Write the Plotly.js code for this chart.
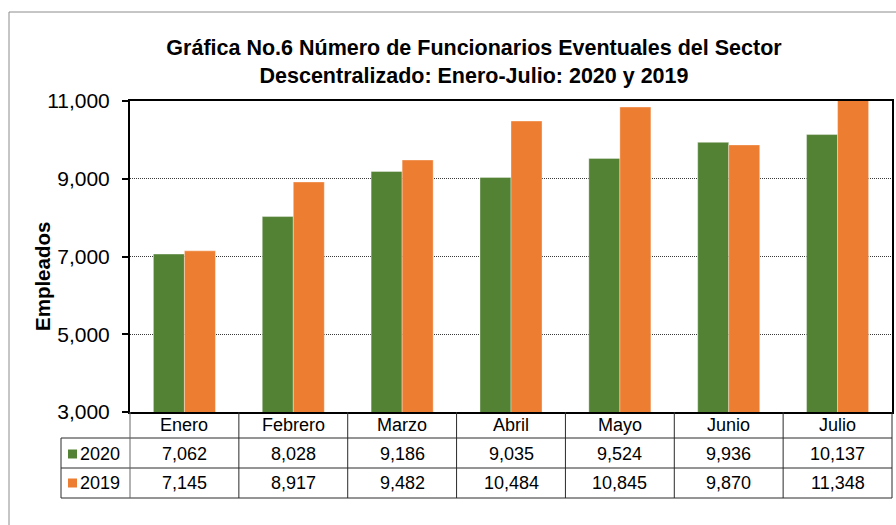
<!DOCTYPE html>
<html>
<head>
<meta charset="utf-8">
<script src="https://cdn.plot.ly/plotly-3.0.1.min.js"></script>
<style>html,body{margin:0;padding:0;background:#fff;}#chart{width:896px;height:525px;}</style>
</head>
<body>
<div id="chart"></div>
<script>
var categories = ["Enero", "Febrero", "Marzo", "Abril", "Mayo", "Junio", "Julio"];
var seriesNames = ["2020", "2019"];
var values2020 = [7062, 8028, 9186, 9035, 9524, 9936, 10137];
var values2019 = [7145, 8917, 9482, 10484, 10845, 9870, 11348];
var seriesColors = ["#548235", "#ED7D31"];
var yTicks = [3000, 5000, 7000, 9000, 11000];
var titleText = "Gráfica No.6 Número de Funcionarios Eventuales del Sector<br>Descentralizado: Enero-Julio: 2020 y 2019";
var yTitleText = "Empleados";

var FONT = "Arial, 'Liberation Sans', sans-serif";
var seriesValues = [values2020, values2019];

// plot area in pixels: x 130..892, y 101..412
var W = 896, H = 525, L = 130, R = 4, T = 101, B = 113;
var plotW = W - L - R, plotH = H - T - B;
function px2paperX(px) { return (px - L) / plotW; }
function px2paperY(py) { return (H - B - py) / plotH; }

var traces = seriesValues.map(function (vals, i) {
  return {
    type: "bar",
    name: seriesNames[i],
    x: categories,
    y: vals,
    marker: { color: seriesColors[i], line: { color: "rgba(255,255,255,0.6)", width: 0.6 } },
    hoverinfo: "x+y+name"
  };
});

// table geometry (pixel rows)
var rowTop = 412, rowH0 = 438, rowH1 = 468, rowH2 = 498;
var legLeft = 61;
var lineColor = "#2a2a2a";
var shapes = [];
// outer chart frame (extends beyond canvas on right/bottom)
shapes.push({ type: "line", xref: "paper", yref: "paper", x0: px2paperX(9), x1: px2paperX(905), y0: px2paperY(12), y1: px2paperY(12), line: { color: "#8c8c8c", width: 1 } });
shapes.push({ type: "line", xref: "paper", yref: "paper", x0: px2paperX(9), x1: px2paperX(9), y0: px2paperY(12), y1: px2paperY(540), line: { color: "#8c8c8c", width: 1 } });
// horizontal table lines
[rowH0, rowH1, rowH2].forEach(function (py) {
  shapes.push({ type: "line", xref: "paper", yref: "paper", x0: px2paperX(legLeft), x1: 1, y0: px2paperY(py), y1: px2paperY(py), line: { color: lineColor, width: 1 } });
});
// legend column left border
shapes.push({ type: "line", xref: "paper", yref: "paper", x0: px2paperX(legLeft), x1: px2paperX(legLeft), y0: px2paperY(rowH0), y1: px2paperY(rowH2), line: { color: lineColor, width: 1 } });
// left border of category cells (below axis)
shapes.push({ type: "line", xref: "paper", yref: "paper", x0: 0, x1: 0, y0: 0, y1: px2paperY(rowH2), line: { color: "#666666", width: 1 } });
// right border
shapes.push({ type: "line", xref: "paper", yref: "paper", x0: 1, x1: 1, y0: 0, y1: px2paperY(rowH2), line: { color: lineColor, width: 1 } });
// category dividers
for (var i = 0; i < categories.length - 1; i++) {
  shapes.push({ type: "line", xref: "x", yref: "paper", x0: i + 0.5, x1: i + 0.5, y0: 0, y1: px2paperY(rowH2), line: { color: lineColor, width: 1 } });
}

var annotations = [];
var tFont = { family: FONT, size: 18, color: "#000" };
var rowCenters = [425.5, 454, 483];
categories.forEach(function (c, i) {
  annotations.push({ xref: "x", yref: "paper", x: c, y: px2paperY(rowCenters[0]), text: c, showarrow: false, font: tFont, xanchor: "center", yanchor: "middle" });
  seriesValues.forEach(function (vals, s) {
    annotations.push({ xref: "x", yref: "paper", x: c, y: px2paperY(rowCenters[s + 1]), text: vals[i].toLocaleString("en-US"), showarrow: false, font: tFont, xanchor: "center", yanchor: "middle" });
  });
});
// legend keys: colour square + series name
seriesNames.forEach(function (n, s) {
  var cy = rowCenters[s + 1];
  shapes.push({ type: "rect", xref: "paper", yref: "paper", x0: px2paperX(68), x1: px2paperX(77), y0: px2paperY(cy - 4.5), y1: px2paperY(cy + 4.5), fillcolor: seriesColors[s], line: { width: 0 } });
  annotations.push({ xref: "paper", yref: "paper", x: px2paperX(79), y: px2paperY(cy), text: n, showarrow: false, font: tFont, xanchor: "left", yanchor: "middle", borderpad: 0 });
});
// y axis title
annotations.push({ xref: "paper", yref: "paper", x: px2paperX(42), y: px2paperY(277), text: "<b>" + yTitleText + "</b>", textangle: -90, showarrow: false, font: { family: FONT, size: 20.5, color: "#000" }, xanchor: "center", yanchor: "middle" });

var layout = {
  width: W, height: H,
  margin: { l: L, r: R, t: T, b: B, pad: 0 },
  paper_bgcolor: "#fff", plot_bgcolor: "#fff",
  showlegend: false,
  barmode: "group", bargap: 0.43, bargroupgap: 0,
  title: { text: "<b>" + titleText + "</b>", font: { family: FONT, size: 21.5, color: "#000" }, xref: "container", yref: "container", x: 474 / W, y: 1 - 55 / H, xanchor: "center", yanchor: "middle" },
  xaxis: { type: "category", range: [-0.5, categories.length - 0.5], showticklabels: false, ticks: "", showgrid: false, showline: true, linecolor: "#000", linewidth: 2, mirror: true, zeroline: false, fixedrange: true },
  yaxis: { range: [3000, 11000], tickvals: yTicks, ticktext: yTicks.map(function (v) { return v.toLocaleString("en-US"); }), ticks: "outside", ticklen: 6, tickwidth: 2, tickcolor: "#000", tickfont: { family: FONT, size: 21, color: "#000" }, ticklabelstandoff: 8, showgrid: true, gridcolor: "#3a3a3a", gridwidth: 1, griddash: "1px,1px", showline: true, linecolor: "#000", linewidth: 2, mirror: true, zeroline: false, automargin: false, fixedrange: true },
  shapes: shapes,
  annotations: annotations
};

Plotly.newPlot("chart", traces, layout, { displayModeBar: false, staticPlot: true });
</script>
</body>
</html>
